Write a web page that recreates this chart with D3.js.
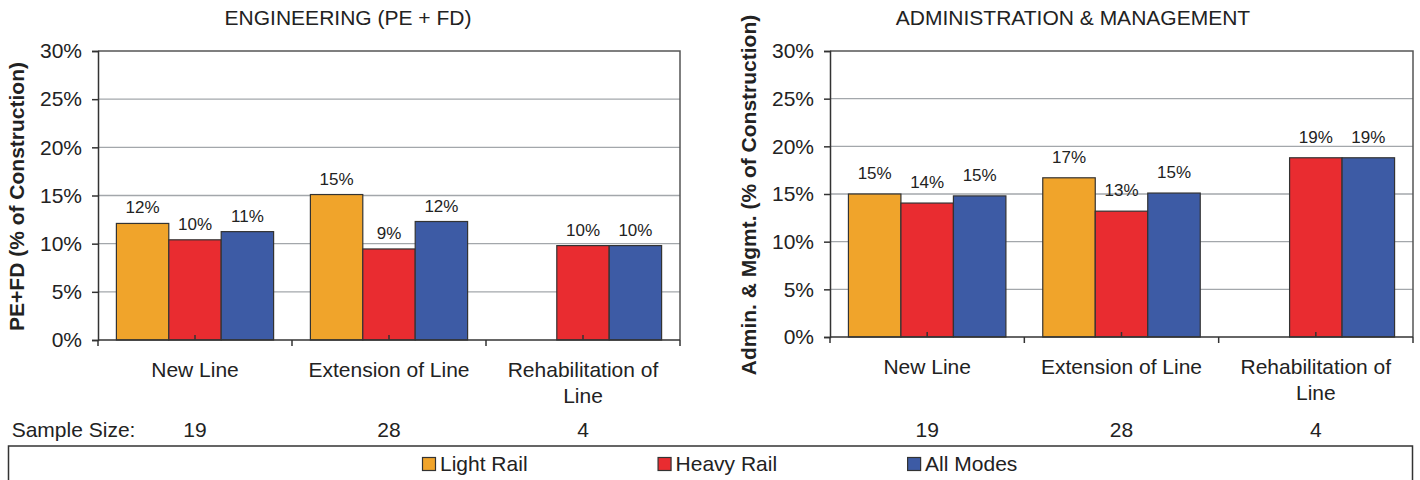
<!DOCTYPE html>
<html>
<head>
<meta charset="utf-8">
<script src="https://cdn.jsdelivr.net/npm/d3@7"></script>
<style>
  html, body { margin: 0; padding: 0; background: #fff; }
  svg { display: block; font-family: Arial, "Liberation Sans", Helvetica, sans-serif; }
</style>
</head>
<body>
<svg id="chart" width="1420" height="480"></svg>
<script>
// ---------- DATA ----------
const categories = ["New Line", "Extension of Line", "Rehabilitation of Line"];
const seriesNames = ["Light Rail", "Heavy Rail", "All Modes"];
const seriesColors = ["#F0A42B", "#E92C30", "#3D5BA5"];

const engLightRail = [12.1, 15.1, null];
const engHeavyRail = [10.4, 9.45, 9.8];
const engAllModes  = [11.25, 12.3, 9.8];

const admLightRail = [15.0, 16.7, null];
const admHeavyRail = [14.05, 13.2, 18.8];
const admAllModes  = [14.8, 15.1, 18.8];

const sampleSizes = [19, 28, 4];
const yTicks = [0, 5, 10, 15, 20, 25, 30];

const engTitle = "ENGINEERING (PE + FD)";
const engYTitle = "PE+FD (% of Construction)";
const admTitle = "ADMINISTRATION & MANAGEMENT";
const admYTitle = "Admin. & Mgmt. (% of Construction)";

// ---------- DRAW ----------
const svg = d3.select("#chart");
const fontMain = 21;

function wrap(textSel, width, lineHeight) {
  textSel.each(function() {
    const text = d3.select(this);
    const words = text.text().split(/\s+/);
    const x = text.attr("x");
    const y = text.attr("y");
    text.text(null);
    let line = [];
    let lineNo = 0;
    let tspan = text.append("tspan").attr("x", x).attr("y", y);
    words.forEach(w => {
      line.push(w);
      tspan.text(line.join(" "));
      if (tspan.node().getComputedTextLength() > width && line.length > 1) {
        line.pop();
        tspan.text(line.join(" "));
        line = [w];
        lineNo++;
        tspan = text.append("tspan").attr("x", x).attr("y", +y + lineNo * lineHeight).text(w);
      }
    });
  });
}

function drawPanel(cfg) {
  const { left, right, top, bottom, title, titleCx, yTitle, yTitleX, data, labelGap } = cfg;
  const g = svg.append("g");

  const x0 = d3.scaleBand().domain(categories).range([left, right]).paddingInner(0).paddingOuter(0);
  const x1 = d3.scaleBand().domain(seriesNames).range([0, x0.bandwidth()]).paddingInner(0).paddingOuter(0.351);
  const y = d3.scaleLinear().domain([0, 30]).range([bottom, top]);

  // gridlines
  g.append("g").selectAll("line").data(yTicks.filter(t => t > 0 && t < 30)).join("line")
    .attr("x1", left).attr("x2", right)
    .attr("y1", d => y(d)).attr("y2", d => y(d))
    .attr("stroke", "#a3a7ab").attr("stroke-width", 1.3);

  // plot border (top & right)
  g.append("path")
    .attr("d", `M${left},${y(30)}H${right}V${bottom}`)
    .attr("fill", "none").attr("stroke", "#555").attr("stroke-width", 1.5);

  // bars
  const rows = categories.map((c, i) => ({ cat: c, vals: data.map((s, k) => ({ name: seriesNames[k], v: s[i], color: seriesColors[k] })) }));
  const grp = g.append("g").selectAll("g").data(rows).join("g")
    .attr("transform", d => `translate(${x0(d.cat)},0)`);
  grp.selectAll("rect").data(d => d.vals.filter(v => v.v != null)).join("rect")
    .attr("x", d => x1(d.name)).attr("width", x1.bandwidth())
    .attr("y", d => y(d.v)).attr("height", d => y(0) - y(d.v))
    .attr("fill", d => d.color).attr("stroke", "#333").attr("stroke-width", 1.2);
  grp.selectAll("text").data(d => d.vals.filter(v => v.v != null)).join("text")
    .attr("x", d => x1(d.name) + x1.bandwidth() / 2)
    .attr("y", d => y(d.v) - labelGap)
    .attr("text-anchor", "middle").attr("font-size", 17).attr("fill", "#222")
    .text(d => Math.round(d.v) + "%");

  // y axis
  const yAxis = d3.axisLeft(y).tickValues(yTicks).tickSize(6).tickPadding(10).tickFormat(d => d + "%");
  const ya = g.append("g").attr("transform", `translate(${left},0)`).call(yAxis);
  ya.select(".domain").attr("stroke", "#333").attr("stroke-width", 1.5);
  ya.selectAll(".tick line").attr("stroke", "#333").attr("stroke-width", 1.5);
  ya.selectAll(".tick text").attr("font-size", fontMain).attr("fill", "#222")
    .attr("font-family", "Arial, 'Liberation Sans', sans-serif");

  // x axis baseline with outer ticks at category boundaries
  g.append("line").attr("x1", left).attr("x2", right).attr("y1", bottom).attr("y2", bottom)
    .attr("stroke", "#333").attr("stroke-width", 1.5);
  const bounds = categories.map(c => x0(c)).concat([right]);
  g.append("g").selectAll("line").data(bounds).join("line")
    .attr("x1", d => d).attr("x2", d => d).attr("y1", bottom).attr("y2", bottom + 6)
    .attr("stroke", "#333").attr("stroke-width", 1.5);
  // inner minor ticks at band centers
  g.append("g").selectAll("line").data(categories).join("line")
    .attr("x1", d => x0(d) + x0.bandwidth() / 2).attr("x2", d => x0(d) + x0.bandwidth() / 2)
    .attr("y1", bottom).attr("y2", bottom - 5)
    .attr("stroke", "#333").attr("stroke-width", 1.5);

  // category labels
  g.append("g").selectAll("text").data(categories).join("text")
    .attr("x", d => x0(d) + x0.bandwidth() / 2)
    .attr("y", bottom + 36.5)
    .attr("text-anchor", "middle").attr("font-size", fontMain).attr("fill", "#222")
    .text(d => d)
    .call(wrap, x0.bandwidth() - 4, 26.7);

  // sample sizes
  g.append("g").selectAll("text").data(categories).join("text")
    .attr("x", d => x0(d) + x0.bandwidth() / 2)
    .attr("y", 436.7)
    .attr("text-anchor", "middle").attr("font-size", fontMain).attr("fill", "#222")
    .text((d, i) => sampleSizes[i]);

  // title
  g.append("text").attr("x", titleCx).attr("y", 25)
    .attr("text-anchor", "middle").attr("font-size", fontMain).attr("fill", "#222")
    .text(title);

  // y title
  g.append("text")
    .attr("transform", `translate(${yTitleX},${(top + bottom) / 2 + 1}) rotate(-90)`)
    .attr("text-anchor", "middle").attr("font-size", fontMain).attr("font-weight", "bold").attr("fill", "#222")
    .text(yTitle);
}

drawPanel({
  left: 98, right: 680, top: 51, bottom: 340,
  title: engTitle, titleCx: 348, yTitle: engYTitle, yTitleX: 23.5,
  data: [engLightRail, engHeavyRail, engAllModes], labelGap: 10
});
drawPanel({
  left: 830, right: 1413, top: 51, bottom: 337,
  title: admTitle, titleCx: 1073, yTitle: admYTitle, yTitleX: 755.5,
  data: [admLightRail, admHeavyRail, admAllModes], labelGap: 15
});

// Sample size label
svg.append("text").attr("x", 11.7).attr("y", 436.7)
  .attr("font-size", fontMain).attr("fill", "#222").text("Sample Size:");

// Legend box
svg.append("rect").attr("x", 8.5).attr("y", 446).attr("width", 1404).attr("height", 60)
  .attr("fill", "none").attr("stroke", "#333").attr("stroke-width", 1.5);

const legend = svg.append("g");
let lx = 422;
seriesNames.forEach((name, i) => {
  const item = legend.append("g").attr("transform", `translate(${lx},0)`);
  item.append("rect").attr("x", 0.5).attr("y", 457.5).attr("width", 13).attr("height", 13)
    .attr("fill", seriesColors[i]).attr("stroke", "#333").attr("stroke-width", 1.2);
  const t = item.append("text").attr("x", 18).attr("y", 470.7)
    .attr("font-size", fontMain).attr("fill", "#222").text(name);
  lx += 18 + t.node().getComputedTextLength() + 130;
});
</script>
</body>
</html>
